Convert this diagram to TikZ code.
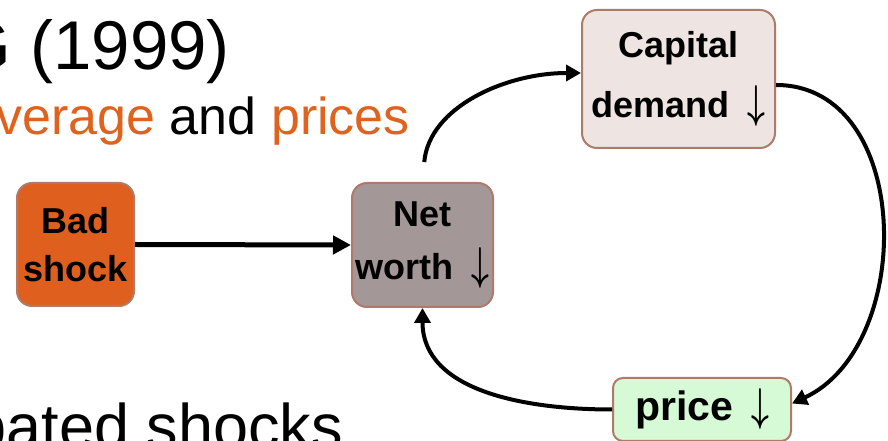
\documentclass[tikz,border=0pt]{standalone}
\usepackage{amsmath}
\usepackage{bm}
\usepackage{fontspec}
\setmainfont{Liberation Sans}
\usetikzlibrary{arrows.meta}
\definecolor{shockorange}{HTML}{DF5F1E}
\definecolor{textorange}{HTML}{E0621F}
\definecolor{boxedge}{HTML}{AE7A6A}
\definecolor{netgray}{HTML}{A39797}
\definecolor{capitalpink}{HTML}{EEE4E2}
\definecolor{pricegreen}{HTML}{D5FAD5}
\tikzstyle{roundbox}=[rectangle,rounded corners=15pt,draw=boxedge,
                      line width=2pt,align=center,inner sep=0pt,
                      font=\fontsize{36}{50}\selectfont\bfseries]
\tikzstyle{cyclearrow}=[line width=4pt,-{Triangle[length=15pt,width=16pt]}]
\newcommand{\dn}{\hspace{18pt}\scalebox{3.1}[4.6]{\normalsize$\bm{\downarrow}$}}

\begin{document}
\begin{tikzpicture}[x=1pt,y=1pt]
    \useasboundingbox (0,0) rectangle (888,441);
    \node (title) at (230,371) [anchor=base east,inner sep=0pt,
          font=\fontsize{69}{80}\selectfont]{G (1999)};
    \node (subtitle) at (410,306) [anchor=base east,inner sep=0pt,
          font=\fontsize{52}{60}\selectfont]
          {\textcolor{textorange}{verage} and \textcolor{textorange}{prices}};
    \node (bullet) at (343,-8) [anchor=base east,inner sep=0pt,
          font=\fontsize{63}{70}\selectfont]{pated shocks};
    \node (bad) at (75.5,196.5) [roundbox,fill=shockorange,
          minimum width=117pt,minimum height=123pt]{Bad\\[-2pt]shock};
    \node (net) at (422.5,196) [roundbox,fill=netgray,
          minimum width=141pt,minimum height=124pt]{Net\\[3pt]worth\dn};
    \node (capital) at (678.5,362) [roundbox,fill=capitalpink,
          minimum width=193pt,minimum height=138pt]{Capital\\[10pt]demand\dn};
    \node (price) at (702,31.5) [roundbox,fill=pricegreen,rounded corners=10pt,
          minimum width=178pt,minimum height=63pt,
          font=\fontsize{41}{50}\selectfont\bfseries]{price\dn};
    \draw [line width=5pt,-{Triangle[length=18pt,width=18pt]}] (bad.east) -- (net.west);
    \draw [cyclearrow,shorten <=20pt] (net.north) to[out=85,in=180] ([yshift=6pt]capital.west);
    \draw [cyclearrow] ([yshift=-6pt]capital.east) to[out=0,in=25,looseness=1.1] ([yshift=6pt]price.east);
    \draw [cyclearrow] (price.west) to[out=180,in=-90] (net.south);
  \end{tikzpicture}
\end{document}
